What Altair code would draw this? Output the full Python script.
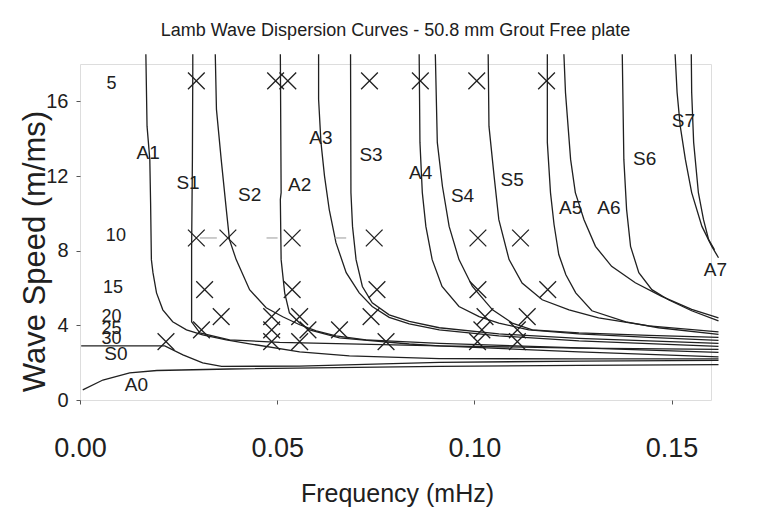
import altair as alt
import pandas as pd

# ---- dispersion curves: frequency (MHz) / wave speed (m/ms) ----
A0_f = [0.0007, 0.0058, 0.0126, 0.0195, 0.0379, 0.0911, 0.1265, 0.1619]
A0_v = [0.54, 1.07, 1.45, 1.58, 1.66, 1.80, 1.86, 1.90]

S0_f = [0.0003, 0.0215, 0.0261, 0.0311, 0.0359, 0.0557, 0.0911, 0.1265, 0.1619]
S0_v = [2.90, 2.90, 2.42, 1.99, 1.80, 1.82, 2.02, 2.08, 2.12]

A1_f = [0.0167, 0.0170, 0.0177, 0.0179, 0.0181, 0.0185, 0.0194, 0.0210, 0.0235,
        0.0270, 0.0311, 0.0371, 0.0430, 0.0557, 0.0683, 0.0911, 0.1265, 0.1619]
A1_v = [18.52, 14.67, 12.89, 10.58, 7.52, 6.82, 5.74, 4.83, 4.19,
        3.76, 3.49, 3.22, 3.01, 2.58, 2.36, 2.22, 2.20, 2.20]

S1_f = [0.0286, 0.0286, 0.0285, 0.0283, 0.0283, 0.0304, 0.0379, 0.0506, 0.0911, 0.1265, 0.1619]
S1_v = [18.52, 17.72, 12.89, 8.05, 4.19, 3.60, 3.22, 3.09, 2.90, 2.58, 2.31]

S2_f = [0.0343, 0.0346, 0.0358, 0.0371, 0.0379, 0.0396, 0.0430, 0.0472, 0.0514,
        0.0557, 0.0599, 0.0649, 0.0725, 0.0911, 0.1265, 0.1619]
S2_v = [18.52, 15.57, 12.89, 10.20, 8.59, 7.52, 5.91, 4.94, 4.46,
        4.03, 3.70, 3.44, 3.22, 3.03, 2.79, 2.55]

A2_f = [0.0508, 0.0510, 0.0508, 0.0510, 0.0519, 0.0531, 0.0557, 0.0582, 0.0658,
        0.0835, 0.0911, 0.1265, 0.1619]
A2_v = [18.52, 11.11, 10.74, 7.52, 5.74, 4.67, 4.13, 3.76, 3.33,
        3.00, 2.90, 2.78, 2.71]

A3_f = [0.0605, 0.0605, 0.0611, 0.0620, 0.0632, 0.0649, 0.0675, 0.0708, 0.0741,
        0.0784, 0.0835, 0.0911, 0.1062, 0.1265, 0.1619]
A3_v = [18.52, 16.11, 13.80, 11.99, 10.20, 8.43, 6.82, 5.74, 5.01,
        4.43, 4.08, 3.76, 3.44, 3.17, 2.87]

S3_f = [0.0686, 0.0687, 0.0691, 0.0700, 0.0716, 0.0741, 0.0784, 0.0835, 0.0911,
        0.1062, 0.1265, 0.1619]
S3_v = [18.52, 11.11, 9.30, 7.52, 6.08, 5.21, 4.56, 4.21, 3.87, 3.54, 3.30, 3.03]

A4_f = [0.0860, 0.0862, 0.0868, 0.0877, 0.0893, 0.0918, 0.0961, 0.1012, 0.1062,
        0.1138, 0.1265, 0.1442, 0.1619]
A4_v = [18.52, 13.80, 11.11, 9.30, 7.52, 6.08, 5.01, 4.47, 4.12, 3.76, 3.54, 3.36, 3.19]

S4_f = [0.0901, 0.0906, 0.0919, 0.0936, 0.0961, 0.0995, 0.1046, 0.1096, 0.1147,
        0.1265, 0.1442, 0.1619]
S4_v = [18.52, 13.80, 11.45, 9.30, 7.52, 6.08, 4.83, 4.12, 3.76, 3.60, 3.46, 3.36]

S5_f = [0.1035, 0.1037, 0.1050, 0.1062, 0.1088, 0.1121, 0.1172, 0.1240, 0.1315, 0.1442, 0.1619]
S5_v = [18.52, 14.67, 11.99, 9.66, 7.52, 6.27, 5.37, 4.83, 4.40, 3.97, 3.65]

A5_f = [0.1185, 0.1185, 0.1193, 0.1202, 0.1214, 0.1232, 0.1257, 0.1298, 0.1384, 0.1467, 0.1619]
A5_v = [18.52, 13.80, 11.11, 9.40, 7.79, 6.71, 5.74, 4.78, 4.19, 3.87, 3.52]

A6_f = [0.1227, 0.1231, 0.1244, 0.1256, 0.1278, 0.1307, 0.1348, 0.1408, 0.1475, 0.1551, 0.1619]
A6_v = [18.52, 16.48, 12.89, 11.11, 9.66, 8.23, 7.16, 6.28, 5.55, 4.86, 4.40]

S6_f = [0.1375, 0.1379, 0.1386, 0.1396, 0.1417, 0.1450, 0.1492, 0.1551, 0.1619]
S6_v = [18.52, 12.89, 10.20, 8.23, 6.82, 5.91, 5.37, 4.78, 4.24]

S7_f = [0.1509, 0.1514, 0.1522, 0.1535, 0.1551, 0.1577, 0.1602, 0.1619]
S7_v = [18.52, 16.48, 14.67, 12.89, 11.11, 9.30, 8.23, 7.62]

A7_f = [0.1550, 0.1551, 0.1556, 0.1568, 0.1581, 0.1594, 0.1609]
A7_v = [18.52, 16.48, 13.80, 11.11, 9.66, 8.59, 8.05]

# ---- measured points (X markers) ----
meas_f = [0.0295, 0.0496, 0.0527, 0.0734, 0.0863, 0.1006, 0.1183,
          0.0295, 0.0375, 0.0538, 0.0746, 0.1009, 0.1117,
          0.0316, 0.0538, 0.0753, 0.1009, 0.1186,
          0.0358, 0.0486, 0.0557, 0.0738, 0.1027, 0.1134,
          0.0308, 0.0486, 0.0578, 0.0658, 0.1019, 0.1109,
          0.0218, 0.0486, 0.0557, 0.0776, 0.1008, 0.1109]
meas_v = [17.1] * 7 + [8.68] * 6 + [5.91] * 5 + [4.47] * 6 + [3.76] * 6 + [3.13] * 6

# ---- short grey dash fragments beside some markers (row 10) ----
dash_f1 = [0.0304, 0.0473, 0.0645]
dash_f2 = [0.0347, 0.0501, 0.0675]
dash_v = [8.68, 8.68, 8.68]

# ---- curve name labels ----
mode_names = ["A0", "S0", "A1", "S1", "S2", "A2", "A3", "S3", "A4", "S4", "S5", "A5", "A6", "S6", "S7", "A7"]
mode_lab_f = [0.0143, 0.0091, 0.0173, 0.0274, 0.0430, 0.0557, 0.0611, 0.0738, 0.0864,
              0.0970, 0.1096, 0.1244, 0.1341, 0.1432, 0.1530, 0.1611]
mode_lab_v = [0.78, 2.44, 13.24, 11.63, 11.0, 11.54, 14.01, 13.1, 12.17,
              10.92, 11.78, 10.29, 10.29, 12.89, 14.94, 6.98]

# ---- row numbers at the left ----
row_text = ["5", "10", "15", "20", "25", "30"]
row_f = [0.0080, 0.0091, 0.0084, 0.0080, 0.0080, 0.0080]
row_v = [16.91, 8.81, 6.0, 4.47, 3.80, 3.26]

curves = {
    "A0": (A0_f, A0_v), "S0": (S0_f, S0_v), "A1": (A1_f, A1_v), "S1": (S1_f, S1_v),
    "S2": (S2_f, S2_v), "A2": (A2_f, A2_v), "A3": (A3_f, A3_v), "S3": (S3_f, S3_v),
    "A4": (A4_f, A4_v), "S4": (S4_f, S4_v), "S5": (S5_f, S5_v), "A5": (A5_f, A5_v),
    "A6": (A6_f, A6_v), "S6": (S6_f, S6_v), "S7": (S7_f, S7_v), "A7": (A7_f, A7_v),
}
rows = []
for name, (fs, vs) in curves.items():
    for i, (f, v) in enumerate(zip(fs, vs)):
        rows.append({"curve": name, "i": i, "f": f, "v": v})
curve_df = pd.DataFrame(rows)
meas_df = pd.DataFrame({"f": meas_f, "v": meas_v})
dash_df = pd.DataFrame({"f": dash_f1, "f2": dash_f2, "v": dash_v})
lab_df = pd.DataFrame({"f": mode_lab_f, "v": mode_lab_v, "t": mode_names})
row_df = pd.DataFrame({"f": row_f, "v": row_v, "t": row_text})

FONT = "Liberation Sans, Arial, sans-serif"
INK = "#202020"

xscale = alt.Scale(domain=[0, 0.16], nice=False, zero=False)
yscale = alt.Scale(domain=[0, 18], nice=False, zero=False)

xaxis = alt.Axis(values=[0, 0.05, 0.10, 0.15], format=".2f", grid=False, domain=False,
                 tickSize=4, tickColor="#555", labelFont=FONT, labelFontSize=27,
                 labelColor=INK, labelPadding=31, labelFlush=False, labelOverlap=False,
                 title="Frequency (mHz)",
                 titleFont=FONT, titleFontSize=25, titleFontWeight="normal",
                 titleColor=INK, titleX=317, titleY=101, titleBaseline="alphabetic",
                 titleAlign="center")
yaxis = alt.Axis(values=[0, 4, 8, 12, 16], grid=False, domain=False, tickSize=4,
                 tickColor="#555", labelFont=FONT, labelFontSize=20, labelColor=INK,
                 labelPadding=8, labelFlush=False, labelOverlap=False,
                 title="Wave Speed (m/ms)", titleFont=FONT,
                 titleFontSize=31, titleFontWeight="normal", titleColor=INK,
                 titleX=-36, titleY=187, titleAngle=270, titleBaseline="alphabetic",
                 titleAlign="center")

lines = alt.Chart(curve_df).mark_line(color=INK, strokeWidth=1.3).encode(
    x=alt.X("f:Q", scale=xscale, axis=xaxis),
    y=alt.Y("v:Q", scale=yscale, axis=yaxis),
    detail="curve:N",
    order="i:Q",
)

dashes = alt.Chart(dash_df).mark_rule(color="#9a9a9a", strokeWidth=1).encode(
    x="f:Q", x2="f2:Q", y="v:Q"
)

marks = alt.Chart(meas_df).mark_point(
    shape="M-1,-1L1,1M1,-1L-1,1", filled=False, stroke=INK, strokeWidth=1.3,
    size=280, opacity=1,
).encode(x="f:Q", y="v:Q")

labels = alt.Chart(lab_df).mark_text(
    font=FONT, fontSize=19, color=INK, align="center", baseline="middle"
).encode(x="f:Q", y="v:Q", text="t:N")

rowlabels = alt.Chart(row_df).mark_text(
    font=FONT, fontSize=18, color=INK, align="center", baseline="middle"
).encode(x="f:Q", y="v:Q", text="t:N")

chart = alt.layer(lines, dashes, marks, labels, rowlabels).properties(
    width=631,
    height=336,
    title=alt.TitleParams(
        "Lamb Wave Dispersion Curves - 50.8 mm Grout Free plate",
        font=FONT, fontSize=18, fontWeight="normal", color=INK,
        anchor="middle", baseline="alphabetic", offset=-2,
    ),
    autosize=alt.AutoSizeParams(type="none"),
    padding={"left": 72, "top": 56, "right": 49, "bottom": 108},
).configure_view(stroke="#8a8a8a", strokeWidth=1).configure(background="white")

chart.save("out.html", embed_options={"renderer": "svg", "actions": False})
